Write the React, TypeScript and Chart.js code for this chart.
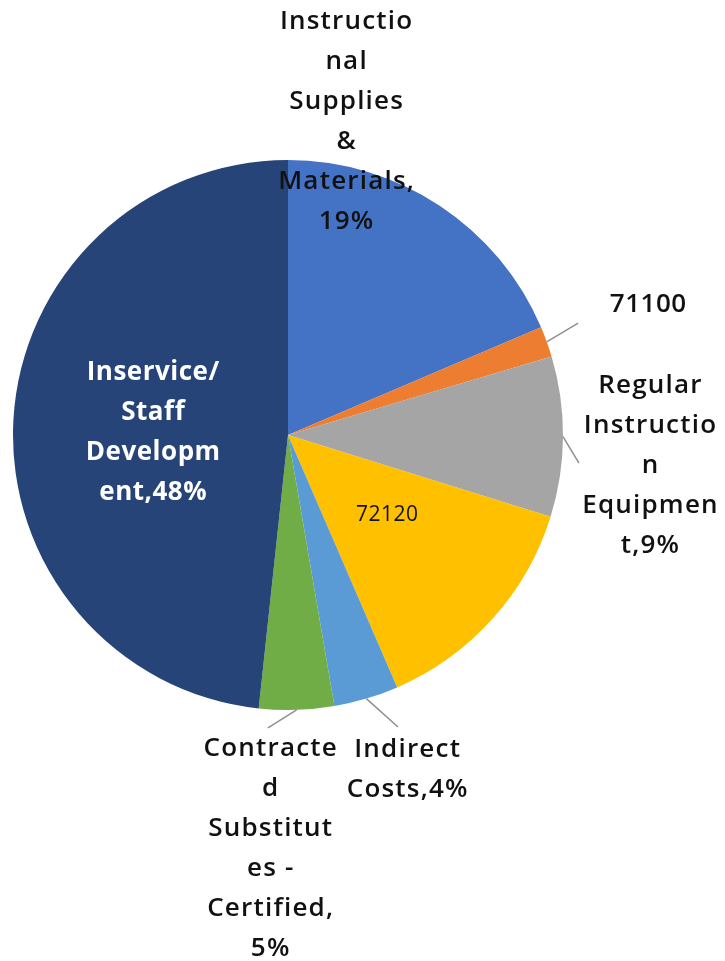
import React, { useEffect, useRef } from "react";
import { Chart, registerables } from "chart.js";

Chart.register(...registerables);

const categories = [
  "Instructional Supplies & Materials",
  "71100",
  "Regular Instruction Equipment",
  "72120",
  "Indirect Costs",
  "Contracted Substitutes - Certified",
  "Inservice/ Staff Development",
];
const values = [18.6, 1.8, 9.4, 13.7, 3.8, 4.4, 48.3];
const labelLines = [
  ["Instructio", "nal", "Supplies", "&", "Materials,", "19%"],
  ["71100"],
  ["Regular", "Instructio", "n", "Equipmen", "t,9%"],
  ["72120"],
  ["Indirect", "Costs,4%"],
  ["Contracte", "d", "Substitut", "es -", "Certified,", "5%"],
  ["Inservice/", "Staff", "Developm", "ent,48%"],
];
const colors = ["#4472C4", "#ED7D31", "#A5A5A5", "#FFC000", "#5B9BD5", "#70AD47", "#264478"];

// label placement (in units of the pie radius, relative to centre) – styling only
const labelStyle = [
  { pos: [0.211, -1.138], color: "#111", weight: "600", size: 26, ls: 1.2, leader: null },
  { pos: [1.309, -0.473], color: "#111", weight: "600", size: 26, ls: 0.5, leader: [1.055, -0.407] },
  { pos: [1.316, 0.113], color: "#111", weight: "600", size: 26, ls: 1.2, leader: [1.058, 0.102] },
  { pos: [0.36, 0.291], color: "#111", weight: "400", size: 21, ls: 0.5, leader: null },
  { pos: [0.433, 1.218], color: "#111", weight: "600", size: 26, ls: 1.2, leader: [0.4, 1.062] },
  { pos: [-0.065, 1.505], color: "#111", weight: "600", size: 26, ls: 1.2, leader: [-0.073, 1.065] },
  { pos: [-0.491, -0.007], color: "#ffffff", weight: "700", size: 26, ls: 0.5, leader: null },
];
const LINE_H = 40;
const FONT = "'Open Sans', 'DejaVu Sans', sans-serif";

const labelPlugin = {
  id: "pieLabels",
  afterDatasetsDraw(chart: any) {
    const ctx = chart.ctx;
    const meta = chart.getDatasetMeta(0);
    meta.data.forEach((arc: any, i: number) => {
      const { x, y, outerRadius, startAngle, endAngle } = arc.getProps(
        ["x", "y", "outerRadius", "startAngle", "endAngle"],
        true
      );
      const st = labelStyle[i];
      const R = outerRadius;
      ctx.save();
      if (st.leader) {
        const mid = (startAngle + endAngle) / 2;
        const sx = x + Math.cos(mid) * R;
        const sy = y + Math.sin(mid) * R;
        ctx.strokeStyle = "#8f8f8f";
        ctx.lineWidth = 1.5;
        ctx.beginPath();
        ctx.moveTo(sx, sy);
        ctx.lineTo(x + st.leader[0] * R, y + st.leader[1] * R);
        ctx.stroke();
      }
      const lines = labelLines[i];
      const cx = x + st.pos[0] * R;
      const cy = y + st.pos[1] * R;
      ctx.fillStyle = st.color;
      ctx.font = `${st.weight} ${st.size}px ${FONT}`;
      (ctx as any).letterSpacing = `${st.ls}px`;
      ctx.textAlign = "center";
      ctx.textBaseline = "middle";
      const top = cy - ((lines.length - 1) * LINE_H) / 2;
      lines.forEach((ln, k) => ctx.fillText(ln, cx + st.ls / 2, top + k * LINE_H));
      ctx.restore();
    });
  },
};

export default function App() {
  const ref = useRef<HTMLCanvasElement>(null);
  useEffect(() => {
    if (!ref.current) return;
    const chart = new Chart(ref.current, {
      type: "pie",
      data: {
        labels: categories,
        datasets: [
          {
            data: values,
            backgroundColor: colors,
            borderWidth: 0,
          },
        ],
      },
      options: {
        responsive: false,
        animation: false,
        layout: { padding: { left: 13, right: 162, top: 160, bottom: 251 } },
        plugins: { legend: { display: false }, tooltip: { enabled: false } },
      },
      plugins: [labelPlugin],
    } as any);
    return () => chart.destroy();
  }, []);
  return (
    <div style={{ position: "fixed", left: 0, top: 0, width: 725, height: 961, background: "#fff" }}>
      <canvas ref={ref} width={725} height={961} />
    </div>
  );
}
